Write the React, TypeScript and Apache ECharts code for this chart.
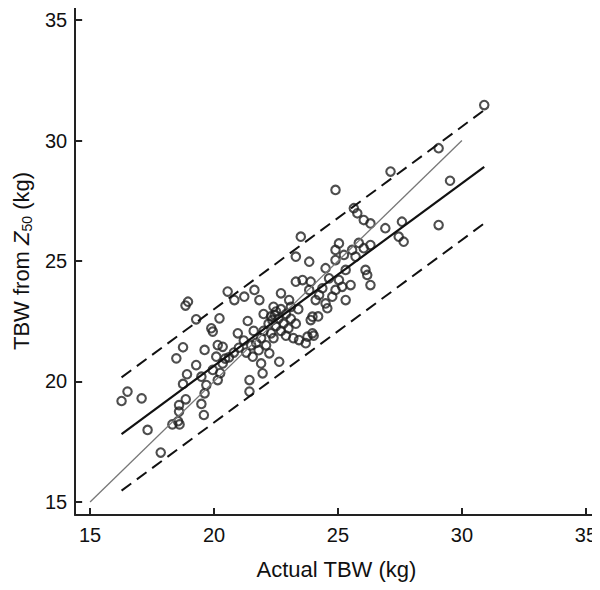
import React, { useEffect, useRef } from "react";
import * as echarts from "echarts";

const actualTBW = [
  16.27, 16.51, 17.08, 17.32, 17.85, 18.32, 18.61, 18.55, 18.59, 18.59,
  18.86, 18.75, 18.91, 18.48, 18.75, 18.95, 18.85, 19.28, 19.28, 19.49,
  19.69, 19.62, 19.49, 19.59, 19.62, 19.89, 19.95, 20.15, 19.95, 20.15,
  20.25, 20.35, 20.45, 20.09, 20.35, 20.22, 20.55, 20.82, 21.22, 21.63,
  21.83, 21.36, 20.96, 22.7, 21.56, 21.43, 21.43, 21.9, 21.96, 22.63,
  22.23, 20.6, 20.8, 21.0, 21.3, 21.5, 21.8, 21.7, 21.2, 21.9,
  21.6, 22.0, 22.1, 22.2, 22.3, 22.3, 22.4, 22.5, 22.5, 22.6,
  22.7, 22.7, 22.8, 22.9, 22.9, 23.0, 23.1, 23.1, 23.2, 23.3,
  22.0, 22.4, 23.4, 23.7, 23.43, 23.97, 24.02, 23.97, 24.2, 23.77,
  23.9, 23.03, 24.1, 24.24, 24.5, 24.57, 24.77, 24.9, 24.37, 25.17,
  25.31, 25.51, 24.64, 25.04, 23.3, 23.57, 23.9, 23.84, 23.5, 23.3,
  23.84, 24.9, 24.9, 25.04, 25.24, 25.57, 25.71, 26.04, 26.31, 24.5,
  25.31, 26.11, 26.18, 26.31, 24.9, 25.64, 25.78, 26.04, 26.31, 26.91,
  27.58, 27.45, 27.65, 27.12, 29.06, 29.52, 29.06, 30.9, 25.84, 22.35,
  22.45,
];
const predictedTBW = [
  19.19, 19.58, 19.3, 17.99, 17.05, 18.22, 18.22, 18.35, 18.75, 19.02,
  19.26, 19.9, 20.3, 20.96, 21.42, 23.31, 23.15, 22.58, 20.68, 20.2,
  19.85, 19.51, 19.07, 18.61, 21.31, 22.21, 22.07, 21.51, 20.48, 20.06,
  20.35, 20.75, 20.95, 21.03, 21.44, 22.62, 23.73, 23.38, 23.52, 23.8,
  23.38, 22.51, 22.0, 23.66, 21.03, 20.06, 19.58, 20.75, 20.34, 20.82,
  21.17, 21.0, 21.2, 21.4, 21.2, 21.5, 21.3, 21.6, 21.7, 21.8,
  22.1, 22.1, 21.5, 22.4, 22.0, 22.7, 21.8, 22.3, 22.9, 22.6,
  22.1, 23.0, 22.4, 21.9, 22.8, 22.2, 22.6, 23.1, 21.8, 22.4,
  22.8, 23.1, 23.0, 21.59, 21.72, 22.0, 21.9, 22.69, 22.7, 21.86,
  22.55, 23.38, 23.38, 23.59, 23.24, 23.04, 23.52, 23.8, 23.87, 23.93,
  23.38, 24.0, 24.28, 24.21, 24.14, 24.21, 24.14, 23.8, 26.01, 25.18,
  24.97, 25.04, 25.46, 25.73, 25.25, 25.46, 25.18, 25.53, 25.66, 24.7,
  24.63, 24.63, 24.42, 24.0, 27.95, 27.19, 26.98, 26.7, 26.56, 26.36,
  26.63, 26.01, 25.8, 28.71, 29.68, 28.33, 26.49, 31.47, 25.75, 22.55,
  22.75,
];

const identityX = [15, 30];
const identityY = [15, 30];
const regressionX = [16.27, 30.9];
const regressionY = [17.82, 28.91];
const upperLimitY = [20.17, 31.26];
const lowerLimitY = [15.47, 26.56];

const tickValues = [15, 20, 25, 30, 35];

const FONT = "Liberation Sans";

const pairs = (xs: number[], ys: number[]) => xs.map((x, i) => [x, ys[i]]);

export default function App() {
  const ref = useRef<HTMLDivElement>(null);
  useEffect(() => {
    if (!ref.current) return;
    const chart = echarts.init(ref.current, null, { renderer: "svg" });
    const axisCommon = {
      type: "value" as const,
      splitLine: { show: false },
      axisLine: { show: true, lineStyle: { color: "#222", width: 2 } },
      axisTick: {
        show: true,
        inside: true,
        length: 7,
        lineStyle: { color: "#222", width: 2 },
        customValues: tickValues,
      },
      axisLabel: {
        color: "#111",
        fontSize: 20,
        fontFamily: FONT,
        customValues: tickValues,
      },
      nameLocation: "middle" as const,
    };
    chart.setOption({
      animation: false,
      backgroundColor: "#fff",
      grid: { left: 75, right: 0, top: 7, bottom: 75, containLabel: false },
      xAxis: {
        ...axisCommon,
        min: 14.398,
        max: 35.48,
        axisLabel: { ...axisCommon.axisLabel, margin: 10 },
        name: "Actual TBW (kg)",
        nameGap: 43,
        nameTextStyle: { color: "#111", fontSize: 22, fontFamily: FONT },
      },
      yAxis: {
        ...axisCommon,
        min: 14.46,
        max: 35.54,
        axisLabel: { ...axisCommon.axisLabel, margin: 8 },
        name: "{a|TBW from }{i|Z}{s|50}{a| (kg)}",
        nameGap: 42,
        nameTextStyle: {
          color: "#111",
          fontSize: 22,
          fontFamily: FONT,
          rich: {
            a: { fontSize: 22, fontFamily: FONT, color: "#111", lineHeight: 24 },
            i: { fontSize: 22, fontFamily: FONT, color: "#111", fontStyle: "italic", lineHeight: 24 },
            s: { fontSize: 14, fontFamily: FONT, color: "#111", lineHeight: 14, padding: [12, 0, 0, 0] },
          },
        },
      },
      series: [
        {
          type: "scatter",
          data: pairs(actualTBW, predictedTBW),
          symbol: "circle",
          symbolSize: 8.5,
          itemStyle: { color: "rgba(255,255,255,0)", borderColor: "#222", borderWidth: 2.1 },
          z: 2,
        },
        {
          type: "line",
          data: pairs(identityX, identityY),
          symbol: "none",
          lineStyle: { color: "#777", width: 1.3 },
          z: 3,
        },
        {
          type: "line",
          data: pairs(regressionX, regressionY),
          symbol: "none",
          lineStyle: { color: "#111", width: 2.2 },
          z: 3,
        },
        {
          type: "line",
          data: pairs(regressionX, upperLimitY),
          symbol: "none",
          lineStyle: { color: "#111", width: 2, type: [12, 7] },
          z: 3,
        },
        {
          type: "line",
          data: pairs(regressionX, lowerLimitY),
          symbol: "none",
          lineStyle: { color: "#111", width: 2, type: [12, 7] },
          z: 3,
        },
      ],
    });
    return () => chart.dispose();
  }, []);
  return <div ref={ref} style={{ width: 600, height: 590, margin: -8 }} />;
}
